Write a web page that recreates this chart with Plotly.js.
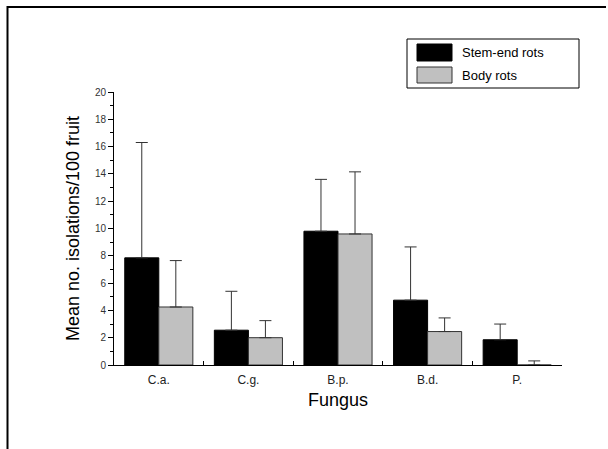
<!DOCTYPE html>
<html>
<head>
<meta charset="utf-8">
<script src="https://cdn.plot.ly/plotly-3.0.1.min.js"></script>
<style>html,body{margin:0;padding:0;background:#fff;}#chart{width:608px;height:449px;}</style>
</head>
<body>
<div id="chart"></div>
<script>
const categories = ["C.a.", "C.g.", "B.p.", "B.d.", "P."];
const seriesNames = ["Stem-end rots", "Body rots"];
const stemEnd = [7.85, 2.55, 9.8, 4.75, 1.85];
const stemEndErr = [8.45, 2.85, 3.8, 3.9, 1.15];
const bodyRots = [4.25, 2.0, 9.6, 2.45, 0];
const bodyRotsErr = [3.4, 1.25, 4.55, 1.0, 0.3];
const yTickVals = [0, 2, 4, 6, 8, 10, 12, 14, 16, 18, 20];

const font = "Liberation Sans, Arial, sans-serif";
const errStyle = {type: "data", symmetric: false, arrayminus: [0,0,0,0,0], color: "#333", thickness: 1, width: 6};

const traces = [
  {type: "bar", name: seriesNames[0], x: categories, y: stemEnd,
   marker: {color: "#000", line: {color: "#000", width: 1}},
   error_y: Object.assign({}, errStyle, {array: stemEndErr}), showlegend: false},
  {type: "bar", name: seriesNames[1], x: categories, y: bodyRots,
   marker: {color: "#c0c0c0", line: {color: "#333", width: 1}},
   error_y: Object.assign({}, errStyle, {array: bodyRotsErr}), showlegend: false}
];

// paper-coordinate helpers (plot area: x 114..562, y 92..365)
const L = 114, R = 562, T = 92, B = 365;
const px = v => (v - L) / (R - L);
const py = v => (B - v) / (B - T);

const shapes = [
  {type: "line", xref: "paper", yref: "paper", x0: px(7), x1: px(606), y0: py(7), y1: py(7), line: {color: "#000", width: 2}},
  {type: "line", xref: "paper", yref: "paper", x0: px(7.5), x1: px(7.5), y0: py(6), y1: py(449), line: {color: "#000", width: 2}},
  // legend box
  {type: "rect", xref: "paper", yref: "paper", x0: px(407), x1: px(579), y0: py(39), y1: py(88), line: {color: "#000", width: 1}, fillcolor: "#fff"},
  {type: "rect", xref: "paper", yref: "paper", x0: px(417), x1: px(452), y0: py(44), y1: py(61), line: {color: "#000", width: 1}, fillcolor: "#000"},
  {type: "rect", xref: "paper", yref: "paper", x0: px(417), x1: px(452), y0: py(67), y1: py(83), line: {color: "#333", width: 1}, fillcolor: "#c0c0c0"}
];

const annotations = [
  {xref: "paper", yref: "paper", x: px(460), y: py(52.5), text: seriesNames[0], showarrow: false, xanchor: "left", yanchor: "middle", font: {family: font, size: 13, color: "#000"}},
  {xref: "paper", yref: "paper", x: px(460), y: py(75), text: seriesNames[1], showarrow: false, xanchor: "left", yanchor: "middle", font: {family: font, size: 13, color: "#000"}}
];

const layout = {
  width: 608, height: 449,
  margin: {l: L, r: 608 - R, t: T, b: 449 - B, pad: 0},
  paper_bgcolor: "#fff", plot_bgcolor: "#fff",
  barmode: "group", bargap: 0.24, bargroupgap: 0,
  showlegend: false,
  xaxis: {
    type: "category", showgrid: false, zeroline: false,
    showline: true, linecolor: "#000", linewidth: 1,
    ticks: "inside", tickson: "boundaries", ticklen: 4, tickcolor: "#000",
    ticklabelstandoff: 4,
    tickfont: {family: font, size: 12, color: "#222"},
    title: {text: "Fungus", font: {family: font, size: 18, color: "#000"}, standoff: 6}
  },
  yaxis: {
    range: [0, 20], showgrid: false, zeroline: false,
    showline: true, linecolor: "#000", linewidth: 1,
    tickmode: "array", tickvals: yTickVals, ticktext: yTickVals.map(String),
    ticks: "outside", ticklen: 5, tickcolor: "#000",
    minor: {dtick: 1, ticks: "outside", ticklen: 3, tickcolor: "#000", showgrid: false},
    tickfont: {family: font, size: 10, color: "#333"},
    title: {text: "Mean no. isolations/100 fruit", font: {family: font, size: 18, color: "#000"}, standoff: 10}
  },
  shapes: shapes,
  annotations: annotations
};

Plotly.newPlot("chart", traces, layout, {displayModeBar: false, staticPlot: true});
</script>
</body>
</html>
